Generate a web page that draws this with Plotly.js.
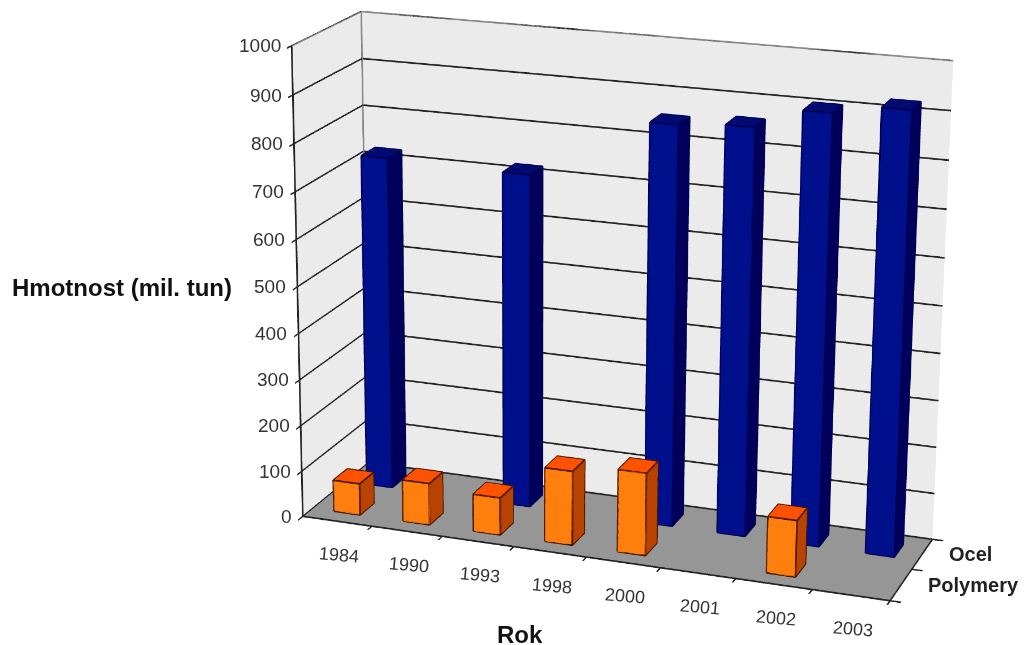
<!DOCTYPE html>
<html><head><meta charset="utf-8">
<script src="https://cdn.plot.ly/plotly-3.0.1.min.js"></script>
<style>html,body{margin:0;padding:0;background:#fff;overflow:hidden;width:1027px;height:645px}
#w{position:absolute;left:0;top:0;width:1027px;height:645px;overflow:hidden}
#c{position:absolute;left:-1529px;top:-968px;width:4108px;height:2580px}</style>
</head><body><div id="w"><div id="c"></div></div>
<script>
const years = ["1984","1990","1993","1998","2000","2001","2002","2003"];
const seriesNames = ["Polymery","Ocel"];
const polymery = [69,91,81,160,177,null,120,null];
const ocel = [725,null,720,null,853,862,905,925];
const zTicks = [0,100,200,300,400,500,600,700,800,900,1000];

const font = "'Liberation Sans',Arial,sans-serif";
const bw = 0.38, bd = 0.42;
const OX=1529, OY=968, W=4108, H=2580;
const px=x=>(x+OX)/W, py=y=>1-(y+OY)/H;

function bars(values, yc, cFront, cSide, cTop, edge){
  const X=[],Y=[],Z=[],I=[],J=[],K=[],F=[];
  const ex=[],ey=[],ez=[];
  values.forEach((v,idx)=>{
    if(v===null) return;
    const x0=idx+.5-bw/2,x1=idx+.5+bw/2,y0=yc-bd/2,y1=yc+bd/2;
    const b=X.length;
    [[x0,y0,0],[x1,y0,0],[x1,y1,0],[x0,y1,0],[x0,y0,v],[x1,y0,v],[x1,y1,v],[x0,y1,v]].forEach(p=>{X.push(p[0]);Y.push(p[1]);Z.push(p[2]);});
    const q=(a,c,d,e,col)=>{I.push(b+a,b+a);J.push(b+c,b+d);K.push(b+d,b+e);F.push(col,col);};
    q(0,1,5,4,cFront); q(1,2,6,5,cSide); q(4,5,6,7,cTop); q(0,3,7,4,cSide); q(3,2,6,7,cSide);
    [[0,1,5,4,0],[1,2,6,5,1],[4,5,6,7,4]].forEach(loop=>{loop.forEach(n=>{ex.push(X[b+n]);ey.push(Y[b+n]);ez.push(Z[b+n]);});ex.push(null);ey.push(null);ez.push(null);});
  });
  return [{type:'mesh3d',x:X,y:Y,z:Z,i:I,j:J,k:K,facecolor:F,flatshading:true,
    lighting:{ambient:1,diffuse:0,specular:0,roughness:1,fresnel:0},hoverinfo:'skip',showscale:false},
    {type:'scatter3d',mode:'lines',x:ex,y:ey,z:ez,line:{color:edge,width:3},hoverinfo:'skip',showlegend:false,connectgaps:false}];
}
const traces=[...bars(polymery,0.5,'#ff7f0e','#b84200','#ff5200','#4a1500'),
              ...bars(ocel,1.5,'#00108c','#00005c','#000a70','#000050')];
traces.push({type:'scatter3d',mode:'lines',x:[0,0,8,null,0,0],y:[0,2,2,null,2,2],z:[1000,1000,1000,null,0,1000],line:{color:'#888',width:3},hoverinfo:'skip',showlegend:false});

const ann=[];
zTicks.forEach(v=>ann.push({x:0,y:0,z:v,text:String(v),showarrow:false,xanchor:'right',xshift:-9,font:{family:font,size:19,color:'#333'}}));
years.forEach((t,i)=>ann.push({x:i+.5,y:0,z:0,text:t,showarrow:false,yshift:-34,xshift:2,textangle:5,font:{family:font,size:18,color:'#333'}}));
seriesNames.forEach((t,i)=>ann.push({x:8,y:i+.5,z:0,text:'<b>'+t+'</b>',showarrow:false,xanchor:'left',xshift:25,font:{family:font,size:20,color:'#222'}}));

const axBase={showgrid:false,zeroline:false,showticklabels:false,showspikes:false,title:{text:''},
  showline:true,linecolor:'#222',linewidth:3,ticks:'outside',ticklen:8,tickcolor:'#222',tickwidth:3};
const layout={width:W,height:H,margin:{l:0,r:0,t:0,b:0},paper_bgcolor:'#fff',showlegend:false,
 scene:{domain:{x:[0,1],y:[0,1]},aspectmode:'manual',aspectratio:{x:3.89,y:1.06,z:3.11},
  camera:{eye:{x:6.09,y:-17.56,z:5.86},center:{x:-.613,y:0,z:-.24},up:{x:0,y:0,z:1},projection:{type:'perspective'}},
  xaxis:{...axBase,range:[0,8],tickmode:'array',tickvals:[0,1,2,3,4,5,6,7,8],showbackground:true,backgroundcolor:'#ebebeb'},
  yaxis:{...axBase,range:[0,2],tickmode:'array',tickvals:[0,1,2],showbackground:true,backgroundcolor:'#ebebeb'},
  zaxis:{...axBase,range:[0,1000],tickmode:'array',tickvals:zTicks,showgrid:true,gridcolor:'#222',gridwidth:3,showbackground:true,backgroundcolor:'#969696'},
  annotations:ann},
 annotations:[
  {xref:'paper',yref:'paper',x:px(122),y:py(287),xanchor:'center',yanchor:'middle',text:'<b>Hmotnost (mil. tun)</b>',showarrow:false,font:{family:font,size:24,color:'#111'}},
  {xref:'paper',yref:'paper',x:px(520),y:py(634),xanchor:'center',yanchor:'middle',text:'<b>Rok</b>',showarrow:false,font:{family:font,size:24,color:'#111'}}
 ]};
Plotly.newPlot('c',traces,layout,{displayModeBar:false});
</script></body></html>
